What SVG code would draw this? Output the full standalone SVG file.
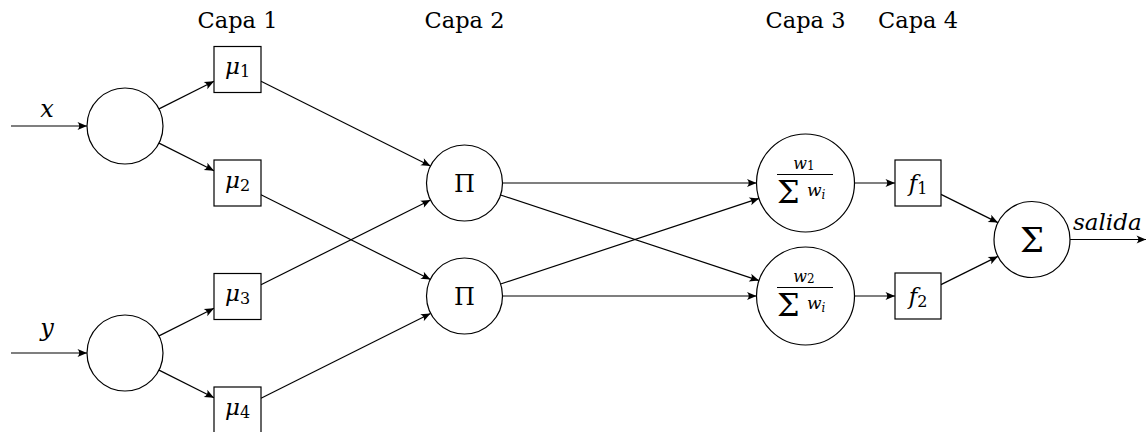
<svg xmlns="http://www.w3.org/2000/svg" width="1148" height="432" viewBox="0 0 1148 432">
<style>
.n{fill:#fff;stroke:#000;stroke-width:1.2}
.e{fill:none;stroke:#000;stroke-width:1.2;marker-end:url(#ar)}
text{font-family:'DejaVu Serif','Liberation Serif',serif;fill:#000}
.lab{font-size:22.5px;text-anchor:middle}
.m{font-style:italic}
.c{text-anchor:middle}
</style>
<defs>
<marker id="ar" markerUnits="userSpaceOnUse" markerWidth="12" markerHeight="10" viewBox="-10 -5 11 10" refX="0" refY="0" orient="auto">
<path d="M0,0 L-9.5,-4 Q-6,0 -9.5,4 Z" fill="#000"/>
</marker>
</defs>
<rect width="1148" height="432" fill="#fff"/>
<g id="labels">
<text class="lab" x="237.5" y="28">Capa 1</text>
<text class="lab" x="464.5" y="28">Capa 2</text>
<text class="lab" x="805.5" y="28">Capa 3</text>
<text class="lab" x="918" y="28">Capa 4</text>
<text class="m c" x="47" y="117" font-size="24">x</text>
<text class="m c" x="47" y="336" font-size="24">y</text>
<text class="m" x="1073" y="230" font-size="23">salida</text>
</g>
<g id="connectors">
<line class="e" x1="11" y1="126" x2="87" y2="126"/>
<line class="e" x1="11" y1="353" x2="87" y2="353"/>
<line class="e" x1="159" y1="108.9" x2="214" y2="81.3"/>
<line class="e" x1="159" y1="143.1" x2="214" y2="170.7"/>
<line class="e" x1="159" y1="335.9" x2="214" y2="308.3"/>
<line class="e" x1="159" y1="370.1" x2="214" y2="397.7"/>
<line class="e" x1="261" y1="81.25" x2="430.5" y2="166"/>
<line class="e" x1="261" y1="284.75" x2="430.5" y2="200"/>
<line class="e" x1="261" y1="194.75" x2="430.5" y2="279.5"/>
<line class="e" x1="261" y1="398.25" x2="430.5" y2="313.5"/>
<line class="e" x1="502.5" y1="183" x2="756.5" y2="183"/>
<line class="e" x1="500.6" y1="195" x2="759" y2="280.6"/>
<line class="e" x1="500.6" y1="284" x2="759" y2="198.4"/>
<line class="e" x1="502.5" y1="296" x2="756.5" y2="296"/>
<line class="e" x1="854.5" y1="183" x2="895" y2="183"/>
<line class="e" x1="854.5" y1="296" x2="895" y2="296"/>
<line class="e" x1="941" y1="194.4" x2="997.9" y2="222.6"/>
<line class="e" x1="941" y1="284.6" x2="997.9" y2="256.4"/>
<line class="e" x1="1070" y1="239.5" x2="1146" y2="239.5"/>
</g>
<g id="in1"><circle class="n" cx="125" cy="126" r="38"/></g>
<g id="in2"><circle class="n" cx="125" cy="353" r="38"/></g>
<g id="mu1"><rect class="n" x="214" y="46.5" width="47" height="46"/>
<text class="c" x="237.5" y="74"><tspan class="m" font-size="23">μ</tspan><tspan dy="3" font-size="16">1</tspan></text></g>
<g id="mu2"><rect class="n" x="214" y="160" width="47" height="46"/>
<text class="c" x="237.5" y="187.5"><tspan class="m" font-size="23">μ</tspan><tspan dy="3" font-size="16">2</tspan></text></g>
<g id="mu3"><rect class="n" x="214" y="273.5" width="47" height="46"/>
<text class="c" x="237.5" y="301"><tspan class="m" font-size="23">μ</tspan><tspan dy="3" font-size="16">3</tspan></text></g>
<g id="mu4"><rect class="n" x="214" y="387" width="47" height="46"/>
<text class="c" x="237.5" y="414.5"><tspan class="m" font-size="23">μ</tspan><tspan dy="3" font-size="16">4</tspan></text></g>
<g id="pi1"><circle class="n" cx="464.5" cy="183" r="38"/>
<text class="c" x="464.5" y="191.5" font-size="24">Π</text></g>
<g id="pi2"><circle class="n" cx="464.5" cy="296" r="38"/>
<text class="c" x="464.5" y="304.5" font-size="24">Π</text></g>
<g id="norm1"><circle class="n" cx="805.5" cy="183" r="49"/>
<text class="c" x="804" y="169"><tspan class="m" font-size="16">w</tspan><tspan dy="1" font-size="12">1</tspan></text>
<line x1="777" y1="174.5" x2="833" y2="174.5" stroke="#000" stroke-width="1.1"/>
<text x="777" y="203" font-size="32">Σ</text>
<text x="807" y="196"><tspan class="m" font-size="17">w</tspan><tspan class="m" dy="3" font-size="12">i</tspan></text></g>
<g id="norm2"><circle class="n" cx="805.5" cy="296" r="49"/>
<text class="c" x="804" y="282"><tspan class="m" font-size="16">w</tspan><tspan dy="1" font-size="12">2</tspan></text>
<line x1="777" y1="287.5" x2="833" y2="287.5" stroke="#000" stroke-width="1.1"/>
<text x="777" y="316" font-size="32">Σ</text>
<text x="807" y="309"><tspan class="m" font-size="17">w</tspan><tspan class="m" dy="3" font-size="12">i</tspan></text></g>
<g id="f1"><rect class="n" x="895" y="160" width="46" height="46"/>
<text class="c" x="918" y="191"><tspan class="m" font-size="23">f</tspan><tspan dy="3" font-size="16">1</tspan></text></g>
<g id="f2"><rect class="n" x="895" y="273" width="46" height="46"/>
<text class="c" x="918" y="304"><tspan class="m" font-size="23">f</tspan><tspan dy="3" font-size="16">2</tspan></text></g>
<g id="sum"><circle class="n" cx="1032" cy="239.5" r="38"/>
<text class="c" x="1032" y="252" font-size="34">Σ</text></g>
</svg>
